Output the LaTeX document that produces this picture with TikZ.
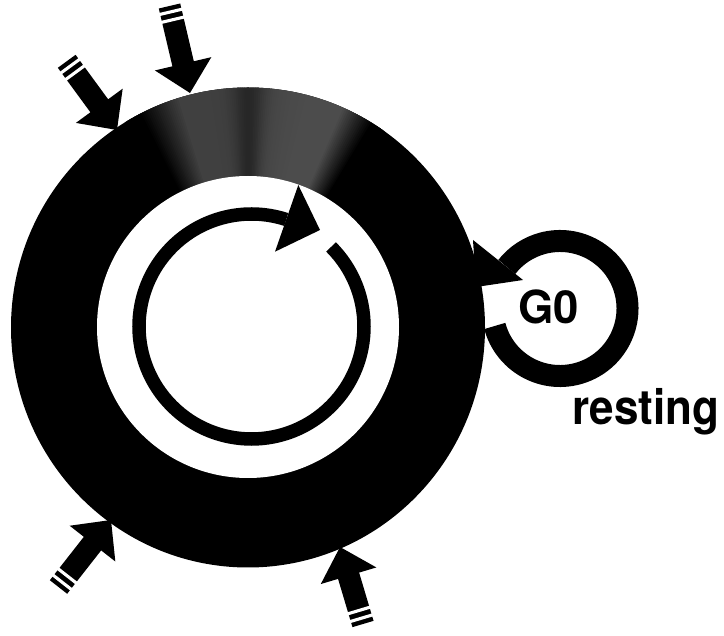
\documentclass[tikz,border=0pt]{standalone}
\usepackage{fontspec}
\setmainfont{TeX Gyre Heros}
\usetikzlibrary{calc}
\tikzset{
  shaftline/.style={line width=22, line cap=butt},
  stripeline/.style={white, line width=3.1},
  cycleline/.style={line width=13.5, line cap=butt},
  restline/.style={line width=22, line cap=butt},
  lbl/.style={anchor=base west, inner sep=0pt, font=\bfseries}
}
\newcommand\stripedarrow[2]{%
  \coordinate (hb) at ($(#2)!30pt!(#1)$);
  \coordinate (hs) at ($(#2)!27pt!(#1)$);
  \draw[shaftline] (hs) -- (#1);
  \fill[black] (#2) -- ($(hb)!29pt!90:(#1)$) -- ($(hb)!29pt!-90:(#1)$) -- cycle;
  \coordinate (s1) at ($(#1)!6pt!(#2)$);
  \coordinate (s2) at ($(#1)!14.1pt!(#2)$);
  \draw[stripeline] ($(s1)!12pt!90:(#2)$) -- ($(s1)!12pt!-90:(#2)$);
  \draw[stripeline] ($(s2)!12pt!90:(#2)$) -- ($(s2)!12pt!-90:(#2)$);
}
\begin{document}
\begin{tikzpicture}[x=1pt,y=-1pt]
\useasboundingbox (0,0) rectangle (724,636);
% main cycle disc
\coordinate (C) at (248,327.5);
\fill[black] (C) ellipse[x radius=237, y radius=240];
% grey (stippled) sector at the top
\begin{scope}
  \clip (C) ellipse[x radius=237, y radius=240];
  \foreach \a in {-121,-120.5,...,-56}{
    \pgfmathsetmacro\al{-\a}
    \pgfmathsetmacro\e{min(1,max(0,(117-\al)/10))*min(1,max(0,(\al-59)/8))}
    \pgfmathsetmacro\g{70+5*min(1,max(0,(\al-75)/20))+11*exp(-((\al-90)/4)*((\al-90)/4))}
    \pgfmathsetmacro\v{100-\e*(100-\g)}
    \fill[black!\v] (C) -- ++(\a:260) arc[start angle=\a, end angle=\a+0.9, radius=260] -- cycle;
  }
\end{scope}
% white centre
\coordinate (W) at (248,327);
\fill[white] (W) circle[radius=151];
% inner cycle arrow
\coordinate (I) at (251.5,326.5);
\draw[cycleline] (I) ++(-45:112.5) arc[start angle=-45, end angle=288, radius=112.5];
\coordinate (ih1) at (320,230);
\coordinate (ih2) at (298.3,185);
\coordinate (ih3) at (275,251.7);
\fill[black] (ih1) -- (ih2) -- (ih3) -- cycle;
% G0 loop
\coordinate (G) at (560,308.5);
\draw[restline] (G) ++(165:67.5) arc[start angle=165, end angle=-142, radius=67.5];
\coordinate (gh1) at (476,287);
\coordinate (gh2) at (473,240);
\coordinate (gh3) at (523,280);
\fill[black] (gh1) -- (gh2) -- (gh3) -- cycle;
% striped arrows
\coordinate (t1) at (169.5,6);   \coordinate (p1) at (190,93);
\coordinate (t2) at (66.7,61.3); \coordinate (p2) at (117,130);
\coordinate (t3) at (58.5,587);  \coordinate (p3) at (111,520);
\coordinate (t4) at (363,624);   \coordinate (p4) at (340,547);
\stripedarrow{t1}{p1}
\stripedarrow{t2}{p2}
\stripedarrow{t3}{p3}
\stripedarrow{t4}{p4}
% labels
\node[lbl] (g0) at (518,324) {\fontsize{45.5}{50}\selectfont G0};
\node[lbl] (rest) at (572,425) {\scalebox{1}[1.1]{\fontsize{44}{48}\selectfont resting}};
\end{tikzpicture}
\end{document}
